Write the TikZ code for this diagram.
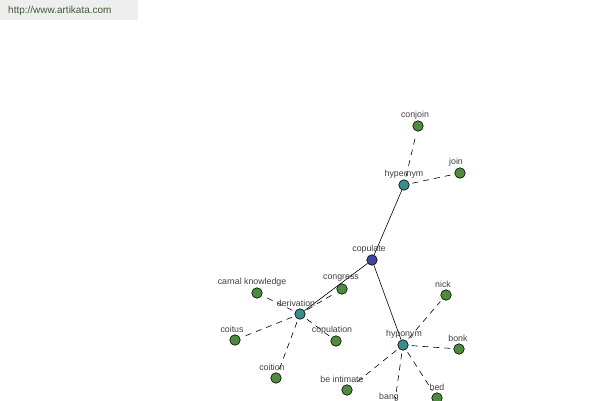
\documentclass[tikz,border=0pt]{standalone}
\usepackage{fontspec}
\setmainfont{Liberation Sans}
\begin{document}
\begin{tikzpicture}[x=1pt,y=-1pt,
  dot/.style={circle,draw=black,line width=0.6pt,minimum size=10.5pt,inner sep=0pt},
  leaf/.style={dot,fill=leafgreen},
  rel/.style={dot,fill=relteal},
  root/.style={dot,fill=rootblue},
  lbl/.style={text=labelgray,font=\fontsize{8.8}{10}\selectfont,inner sep=0pt},
  solidedge/.style={draw=black,line width=0.6pt},
  dashedge/.style={draw=black,line width=0.6pt,dash pattern=on 6pt off 5pt,shorten <=3pt,shorten >=3pt}]
\definecolor{leafgreen}{HTML}{4C8C3C}
\definecolor{relteal}{HTML}{3C8C8C}
\definecolor{rootblue}{HTML}{4444A0}
\definecolor{labelgray}{HTML}{404040}
\definecolor{hdrgray}{HTML}{EEEEEE}
\definecolor{hdrtext}{HTML}{3F5A34}
\useasboundingbox (0,0) rectangle (600,400);
\fill[white] (0,0) rectangle (600,400);
\fill[hdrgray] (0,0) rectangle (138,20);
\node[anchor=west,inner sep=0pt,text=hdrtext,font=\fontsize{10}{12}\selectfont] (url) at (8,11) {http://www.artikata.com};
% nodes
\node[root] (copulate) at (372,260) {};
\node[rel] (hypernym) at (404,185) {};
\node[rel] (derivation) at (300,314) {};
\node[rel] (hyponym) at (403,345) {};
\node[leaf] (conjoin) at (418,126) {};
\node[leaf] (join) at (460,173) {};
\node[leaf] (carnal) at (257,293) {};
\node[leaf] (congress) at (342,289) {};
\node[leaf] (coitus) at (235,340) {};
\node[leaf] (copulation) at (336,341) {};
\node[leaf] (coition) at (276,378) {};
\node[leaf] (nick) at (446,295) {};
\node[leaf] (bonk) at (459,349) {};
\node[leaf] (bed) at (437,398) {};
\node[leaf] (bang) at (394,408) {};
\node[leaf] (intimate) at (347,390) {};
% edges
\draw[solidedge] (copulate) -- (hypernym);
\draw[solidedge] (copulate) -- (hyponym);
\draw[solidedge] (copulate) -- (derivation);
\draw[dashedge] (hypernym) -- (conjoin);
\draw[dashedge] (hypernym) -- (join);
\draw[dashedge] (derivation) -- (carnal);
\draw[dashedge] (derivation) -- (congress);
\draw[dashedge] (derivation) -- (coitus);
\draw[dashedge] (derivation) -- (copulation);
\draw[dashedge] (derivation) -- (coition);
\draw[dashedge] (hyponym) -- (nick);
\draw[dashedge] (hyponym) -- (bonk);
\draw[dashedge] (hyponym) -- (bed);
\draw[dashedge] (hyponym) -- (bang);
\draw[dashedge] (hyponym) -- (intimate);
% labels
\node[lbl] (lcopulate) at (369,249) {copulate};
\node[lbl] (lhypernym) at (404,174) {hypernym};
\node[lbl] (lderivation) at (296,303) {derivation};
\node[lbl] (lhyponym) at (404,334) {hyponym};
\node[lbl] (lconjoin) at (415,115) {conjoin};
\node[lbl] (ljoin) at (456,162) {join};
\node[lbl] (lcarnal) at (252,282) {carnal knowledge};
\node[lbl] (lcongress) at (341,278) {congress};
\node[lbl] (lcoitus) at (232,329) {coitus};
\node[lbl] (lcopulation) at (332,330) {copulation};
\node[lbl] (lcoition) at (272,367) {coition};
\node[lbl] (lnick) at (443,284) {nick};
\node[lbl] (lbonk) at (458,338) {bonk};
\node[lbl] (lbed) at (437,387) {bed};
\node[lbl] (lbang) at (389,397) {bang};
\node[lbl] (lintimate) at (342,379) {be intimate};
\end{tikzpicture}
\end{document}
